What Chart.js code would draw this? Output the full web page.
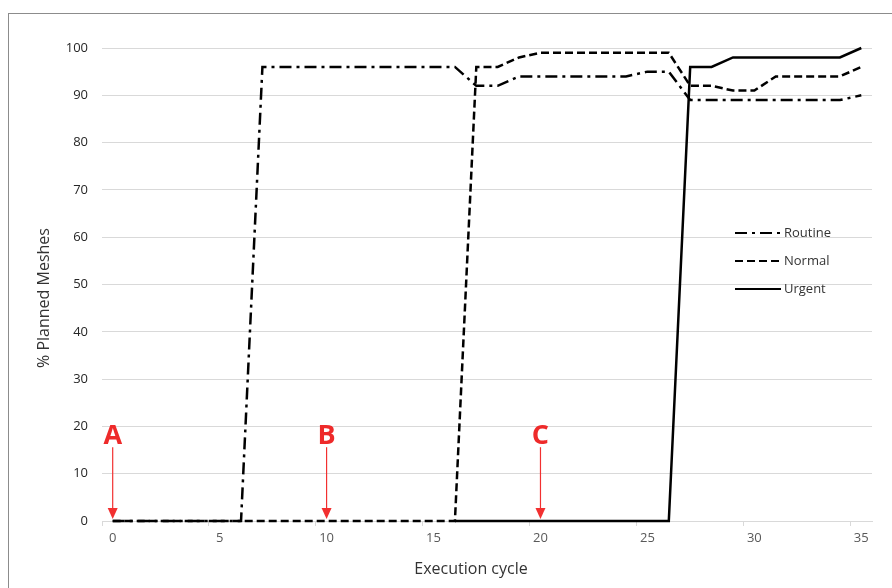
<!DOCTYPE html>
<html>
<head>
<meta charset="utf-8">
<script src="https://cdn.jsdelivr.net/npm/chart.js@4/dist/chart.umd.min.js"></script>
<style>
  html, body { margin: 0; padding: 0; background: #fff; }
  #wrap { width: 892px; height: 588px; position: relative; }
</style>
</head>
<body>
<div id="wrap"><canvas id="meshChart" width="892" height="588"></canvas></div>
<script>
var categories = [0, 1, 2, 3, 4, 5, 6, 7, 8, 9, 10, 11, 12, 13, 14, 15, 16, 17,
  18, 19, 20, 21, 22, 23, 24, 25, 26, 27, 28, 29, 30, 31, 32, 33, 34, 35];

var routine = [0, 0, 0, 0, 0, 0, 0, 96, 96, 96, 96, 96, 96, 96, 96, 96, 96, 92,
  92, 94, 94, 94, 94, 94, 94, 95, 95, 89, 89, 89, 89, 89, 89, 89, 89, 90];

var normal = [0, 0, 0, 0, 0, 0, 0, 0, 0, 0, 0, 0, 0, 0, 0, 0, 0, 96,
  96, 98, 99, 99, 99, 99, 99, 99, 99, 92, 92, 91, 91, 94, 94, 94, 94, 96];

var urgent = [null, null, null, null, null, null, null, null, null, null, null, null, null, null, null, null, 0, 0,
  0, 0, 0, 0, 0, 0, 0, 0, 0, 96, 96, 98, 98, 98, 98, 98, 98, 100];

var seriesNames = ["Routine", "Normal", "Urgent"];
var seriesDash = [[12, 5, 3, 5], [8, 4], []];

var yTicks = [0, 10, 20, 30, 40, 50, 60, 70, 80, 90, 100];

var markerLabels = ["A", "B", "C"];
var markerCycle = [0, 10, 20];

var FONT = '"Open Sans", "Noto Sans", sans-serif';
var TEXT = "#595959";
var GRID = "#d9d9d9";

var framePlugin = {
  id: "frame",
  beforeDraw: function (chart) {
    var ctx = chart.ctx;
    ctx.save();
    ctx.fillStyle = "#fff";
    ctx.fillRect(0, 0, chart.width, chart.height);
    ctx.strokeStyle = "#8c8c8c";
    ctx.lineWidth = 1;
    ctx.strokeRect(8.5, 13.5, 1000, 1000);
    ctx.restore();
  },
};

var extrasPlugin = {
  id: "extras",
  afterDraw: function (chart) {
    var ctx = chart.ctx;
    var xs = chart.scales.x;
    var ys = chart.scales.y;
    ctx.save();

    // axis titles
    ctx.fillStyle = "#333";
    ctx.font = "16px " + FONT;
    ctx.textAlign = "center";
    ctx.textBaseline = "middle";
    ctx.fillText("Execution cycle", 471, 569);
    ctx.save();
    ctx.translate(44, 298);
    ctx.rotate(-Math.PI / 2);
    ctx.fillText("% Planned Meshes", 0, 0);
    ctx.restore();

    // legend
    ctx.font = "13px " + FONT;
    ctx.textAlign = "left";
    for (var i = 0; i < seriesNames.length; i++) {
      var ly = 233 + i * 28;
      ctx.beginPath();
      ctx.strokeStyle = "#000";
      ctx.lineWidth = 2;
      ctx.lineCap = "butt";
      ctx.setLineDash(seriesDash[i]);
      ctx.moveTo(735, ly);
      ctx.lineTo(781, ly);
      ctx.stroke();
      ctx.setLineDash([]);
      ctx.fillStyle = "#333";
      ctx.fillText(seriesNames[i], 784, ly);
    }

    // A / B / C markers
    for (var k = 0; k < markerLabels.length; k++) {
      var px = xs.getPixelForValue(markerCycle[k]);
      var top = ys.getPixelForValue(15.6);
      var tip = ys.getPixelForValue(0.4);
      ctx.strokeStyle = "#f23030";
      ctx.fillStyle = "#f23030";
      ctx.lineWidth = 1.2;
      ctx.beginPath();
      ctx.moveTo(px, top);
      ctx.lineTo(px, tip - 10);
      ctx.stroke();
      ctx.beginPath();
      ctx.moveTo(px - 5, tip - 11);
      ctx.lineTo(px + 5, tip - 11);
      ctx.lineTo(px, tip);
      ctx.closePath();
      ctx.fill();
      ctx.fillStyle = "#ee2a2a";
      ctx.font = "bold 27px " + FONT;
      ctx.textAlign = "center";
      ctx.fillText(markerLabels[k], px, ys.getPixelForValue(17.8));
    }
    ctx.restore();
  },
};

var seriesData = [routine, normal, urgent];
var datasets = seriesData.map(function (vals, i) {
  return {
    label: seriesNames[i],
    data: vals,
    borderColor: "#000",
    backgroundColor: "#000",
    borderWidth: 2.5,
    borderDash: seriesDash[i],
    borderCapStyle: "butt",
    pointRadius: 0,
    tension: 0,
    fill: false,
    spanGaps: false,
    clip: 6,
  };
});

new Chart(document.getElementById("meshChart"), {
  type: "line",
  data: { labels: categories, datasets: datasets },
  plugins: [framePlugin, extrasPlugin],
  options: {
    responsive: false,
    devicePixelRatio: 1,
    animation: false,
    layout: { padding: { left: 0, right: 20, top: 48, bottom: 0 } },
    plugins: { legend: { display: false }, tooltip: { enabled: false } },
    scales: {
      x: {
        type: "category",
        offset: true,
        afterFit: function (s) { s.height = 67; },
        grid: {
          offset: true,
          drawOnChartArea: false,
          tickLength: 5,
          tickColor: function (c) {
            return c.index !== undefined && c.index % 5 === 0 ? GRID : "rgba(0,0,0,0)";
          },
        },
        border: { display: true, color: GRID },
        ticks: {
          autoSkip: false,
          maxRotation: 0,
          color: TEXT,
          padding: 4,
          font: { family: FONT, size: 13 },
          callback: function (v, idx) { return idx % 5 === 0 ? String(categories[idx]) : ""; },
        },
      },
      y: {
        min: 0,
        max: 100,
        afterFit: function (s) { s.width = 102; },
        afterBuildTicks: function (s) { s.ticks = yTicks.map(function (v) { return { value: v }; }); },
        grid: { color: GRID, lineWidth: 1, drawTicks: false },
        border: { display: false },
        ticks: { color: "#262626", padding: 14, font: { family: FONT, size: 13 } },
      },
    },
  },
});
</script>
</body>
</html>
